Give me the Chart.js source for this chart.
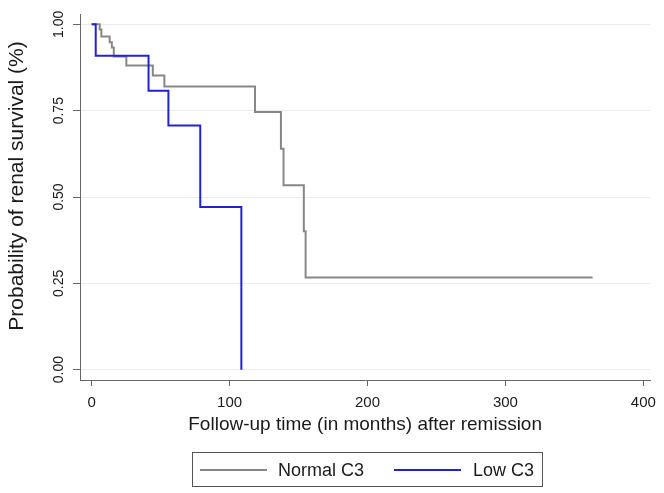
<!DOCTYPE html>
<html>
<head>
<meta charset="utf-8">
<script src="https://cdn.jsdelivr.net/npm/chart.js@4.4.1/dist/chart.umd.min.js"></script>
<style>
  html, body { margin: 0; padding: 0; background: #fff; }
  #wrap { position: relative; width: 664px; height: 493px; font-family: "Liberation Sans", Arial, sans-serif; }
  #legend { position: absolute; left: 192px; top: 452px; width: 349px; height: 33px; border: 1px solid #555; }
  #legend .ln { position: absolute; top: 16px; height: 2px; width: 67px; }
  #legend .tx { position: absolute; top: 0; line-height: 34px; font-size: 18px; color: #1a1a1a; white-space: nowrap; }
</style>
</head>
<body>
<div id="wrap">
  <canvas id="c" width="664" height="493"></canvas>
  <div id="legend">
    <span class="ln" id="ln0" style="left:7px;"></span><span class="tx" id="tx0" style="left:85px;"></span>
    <span class="ln" id="ln1" style="left:201px;"></span><span class="tx" id="tx1" style="left:280px;"></span>
  </div>
</div>
<script>
// ---- data ----
const seriesNames = ["Normal C3", "Low C3"];
const normalTime = [0, 5.8, 7.0, 13.0, 14.6, 16.0, 25.1, 44.3, 52.7, 118.4, 137.2, 139.1, 153.8, 155.1, 363.2];
const normalSurv = [1.0, 0.985, 0.965, 0.948, 0.933, 0.907, 0.881, 0.852, 0.820, 0.746, 0.640, 0.534, 0.401, 0.267, 0.267];
const lowTime = [0, 2.9, 41.2, 55.6, 78.7, 108.5];
const lowSurv = [1.0, 0.909, 0.808, 0.707, 0.471, 0.0];
const xTicks = [0, 100, 200, 300, 400];
const yTicks = [0, 0.25, 0.5, 0.75, 1.0];
const yTickLabels = ["0.00", "0.25", "0.50", "0.75", "1.00"];
const xTitle = "Follow-up time (in months) after remission";
const yTitle = "Probability of renal survival (%)";
const colors = ["#878787", "#2222d4"];

const FONT = "'Liberation Sans', Arial, sans-serif";
const toPts = (xs, ys) => xs.map((x, i) => ({ x: x, y: ys[i] }));

// legend (HTML)
document.getElementById('ln0').style.background = colors[0];
document.getElementById('ln1').style.background = colors[1];
document.getElementById('tx0').textContent = seriesNames[0];
document.getElementById('tx1').textContent = seriesNames[1];

// y-axis title drawn as rotated text, positioned like the reference
const yTitlePlugin = {
  id: 'yTitlePlugin',
  afterDraw(chart) {
    const ctx = chart.ctx;
    ctx.save();
    ctx.translate(17, 186);
    ctx.rotate(-Math.PI / 2);
    ctx.font = "21px " + FONT;
    ctx.fillStyle = '#1a1a1a';
    ctx.textAlign = 'center';
    ctx.textBaseline = 'middle';
    ctx.fillText(yTitle, 0, 0);
    ctx.restore();
  }
};

new Chart(document.getElementById('c'), {
  type: 'line',
  data: {
    datasets: [
      { label: seriesNames[0], data: toPts(normalTime, normalSurv), borderColor: colors[0], backgroundColor: colors[0],
        borderWidth: 2, stepped: true, pointRadius: 0, fill: false, order: 1 },
      { label: seriesNames[1], data: toPts(lowTime, lowSurv), borderColor: colors[1], backgroundColor: colors[1],
        borderWidth: 2, stepped: true, pointRadius: 0, fill: false, order: 0 }
    ]
  },
  plugins: [yTitlePlugin],
  options: {
    responsive: false,
    animation: false,
    devicePixelRatio: 1,
    layout: { padding: { top: 14, right: 11, bottom: 53, left: 0 } },
    plugins: { legend: { display: false }, tooltip: { enabled: false } },
    scales: {
      x: {
        type: 'linear', min: -8.5, max: 405,
        afterBuildTicks: s => { s.ticks = xTicks.map(v => ({ value: v })); },
        afterFit: s => { s.height = 60; },
        ticks: { font: { family: FONT, size: 15 }, color: '#1a1a1a', padding: 8, maxRotation: 0, callback: v => String(v) },
        grid: { drawOnChartArea: false, tickLength: 6, tickColor: '#666', lineWidth: 1 },
        border: { color: '#666', width: 1 },
        title: { display: true, text: xTitle, font: { family: FONT, size: 19 }, color: '#1a1a1a', padding: { top: 0, bottom: 4 } }
      },
      y: {
        type: 'linear', min: -0.03, max: 1.03,
        afterBuildTicks: s => { s.ticks = yTicks.map(v => ({ value: v })); },
        afterFit: s => { s.width = 80; },
        ticks: { font: { family: FONT, size: 14 }, color: '#1a1a1a', padding: 0, minRotation: 90, maxRotation: 90,
                 crossAlign: 'center', callback: (v) => yTickLabels[yTicks.indexOf(v)] },
        grid: { color: '#ebebeb', tickColor: '#666', tickLength: 7, lineWidth: 1 },
        border: { color: '#666', width: 1 },
        title: { display: false }
      }
    }
  }
});
</script>
</body>
</html>
